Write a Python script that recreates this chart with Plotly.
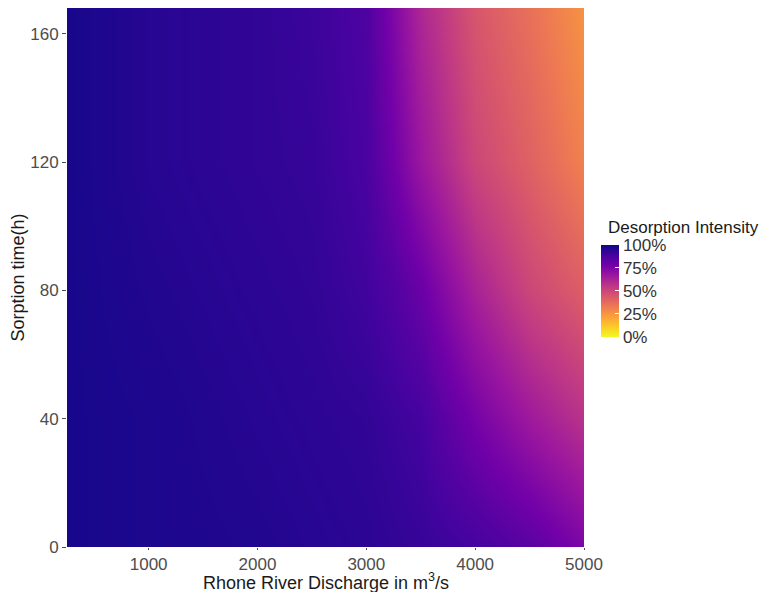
import plotly.graph_objects as go
import plotly.express as px

# discharge (m3/s) and sorption time (h) grid
discharge = [250, 1000, 2000, 2500, 3000, 3250, 3500, 4000, 4500, 5000]
sorption_time = [0, 40, 80, 120, 168]

# desorption intensity in %, one row per sorption time
intensity = [
    [98, 97, 96, 95, 94, 93, 92, 89, 84, 75],
    [98, 97, 95, 94, 93, 91, 89, 77, 66, 57],
    [98, 96, 94, 93, 90, 86, 80, 63, 50, 42],
    [98, 95, 93, 92, 88, 78, 67, 50, 41, 31],
    [98, 95, 93, 91, 87, 74, 61, 45, 36, 26],
]

cbar_ticks = [0, 25, 50, 75, 100]
cbar_labels = ["0%", "25%", "50%", "75%", "100%"]

FONT = "Liberation Sans, Arial, sans-serif"

fig = go.Figure(
    go.Heatmap(
        x=discharge,
        y=sorption_time,
        z=intensity,
        zsmooth="best",
        zmin=0,
        zmax=100,
        colorscale=px.colors.sequential.Plasma_r,
        colorbar=dict(
            tickvals=cbar_ticks,
            ticktext=cbar_labels,
            ticks="inside",
            tickcolor="white",
            ticklen=4,
            thickness=18,
            len=92,
            lenmode="pixels",
            ypad=0,
            x=1.033,
            xanchor="left",
            xpad=0,
            y=0.475,
            yanchor="middle",
            outlinewidth=0,
            tickfont=dict(size=17, color="#333333", family=FONT),
        ),
    )
)

# legend title placed as text above the colour bar
fig.add_annotation(
    text="Desorption Intensity",
    xref="paper", yref="paper",
    x=1.043, y=0.593,
    xanchor="left", yanchor="middle",
    showarrow=False,
    font=dict(size=17, color="#1a1a1a", family=FONT),
)

# x axis title as text so it can sit below the tick labels
fig.add_annotation(
    text="Rhone River Discharge in m<sup>3</sup>/s",
    xref="paper", yref="paper",
    x=0.5, y=0,
    xanchor="center", yanchor="middle",
    yshift=-34,
    showarrow=False,
    font=dict(size=18, color="#1a1a1a", family=FONT),
)

fig.update_layout(
    width=757,
    height=584,
    margin=dict(l=59, r=181, t=0, b=45, autoexpand=False),
    plot_bgcolor="white",
    paper_bgcolor="white",
    font=dict(family=FONT),
)

fig.update_xaxes(
    range=[250, 5000],
    tickvals=[1000, 2000, 3000, 4000, 5000],
    ticks="outside",
    ticklen=2,
    tickcolor="#4d4d4d",
    showgrid=False,
    zeroline=False,
    showline=False,
    automargin=False,
    tickfont=dict(size=17, color="#4d4d4d"),
)
fig.update_yaxes(
    range=[0, 168],
    tickvals=[0, 40, 80, 120, 160],
    ticks="outside",
    ticklen=4,
    tickcolor="#4d4d4d",
    showgrid=False,
    zeroline=False,
    showline=False,
    automargin=False,
    tickfont=dict(size=17, color="#4d4d4d"),
    title=dict(text="Sorption time(h)", font=dict(size=18, color="#1a1a1a")),
)

fig.write_html("out.html")
